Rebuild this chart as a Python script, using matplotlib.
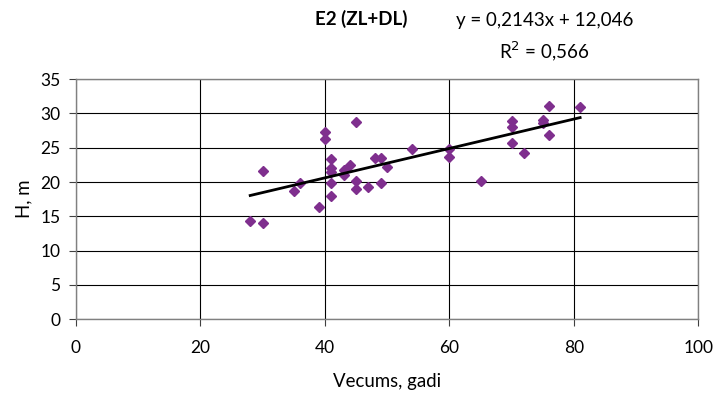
import numpy as np
import matplotlib
matplotlib.use('Agg')
import matplotlib.pyplot as plt

plt.rcParams['font.family'] = ['Lato', 'DejaVu Sans']

# vecums (gadi) un augstums H (m), nolasīts no attēla
age = [28, 30, 30, 35, 36, 39, 40, 40, 41, 41, 41, 41, 41,
       43, 43, 44, 45, 45, 45, 47, 48, 49, 49, 50, 54,
       60, 60, 65, 70, 70, 70, 72, 75, 75, 76, 76, 81]
height = [14.3, 14.0, 21.6, 18.7, 19.9, 16.4, 27.3, 26.3, 23.4, 22.0, 21.5, 19.8, 18.0,
          21.8, 21.0, 22.5, 28.7, 20.1, 19.0, 19.3, 23.5, 23.5, 19.8, 22.2, 24.8,
          24.8, 23.6, 20.2, 28.9, 28.0, 25.7, 24.3, 29.1, 28.6, 31.1, 26.9, 30.9]
slope = 0.2143
intercept = 12.046
r2 = 0.566

title = 'E2 (ZL+DL)'
xlabel = 'Vecums, gadi'
ylabel = 'H, m'

fig = plt.figure(figsize=(7.18, 3.96), dpi=100)
ax = fig.add_axes([0.1057, 0.1937, 0.867, 0.6063])

ax.plot(age, height, linestyle='none', marker='D', ms=5.2,
        color='#7F2F8E', zorder=3)

xs = np.array([min(age), max(age)])
ax.plot(xs, slope * xs + intercept, color='black', lw=2.0, zorder=4)

ax.set_xlim(0, 100)
ax.set_ylim(0, 35)
ax.set_xticks(np.arange(0, 101, 20))
ax.set_yticks(np.arange(0, 36, 5))
ax.grid(True, color='black', lw=0.8)
ax.set_axisbelow(True)
for s in ax.spines.values():
    s.set_color('#808080')
    s.set_linewidth(1.0)
ax.tick_params(axis='both', direction='out', length=5, width=0.8,
               color='#404040', labelsize=12.5)
ax.tick_params(axis='x', pad=10)
ax.tick_params(axis='y', pad=6)

ax.set_xlabel(xlabel, fontsize=13.4, labelpad=12)
ax.set_ylabel(ylabel, fontsize=13.4, labelpad=6)

fig.text(0.503, 0.952, title, ha='center', va='center', fontsize=13.5, fontweight='bold')
eq = 'y = ' + str(slope).replace('.', ',') + 'x + ' + str(intercept).replace('.', ',')
fig.text(0.758, 0.947, eq, ha='center', va='center', fontsize=13.5)
fig.text(0.758, 0.872, r'R$^2$ = ' + str(r2).replace('.', ','), ha='center', va='center', fontsize=13.5)

fig.savefig('out.png', dpi=100)
